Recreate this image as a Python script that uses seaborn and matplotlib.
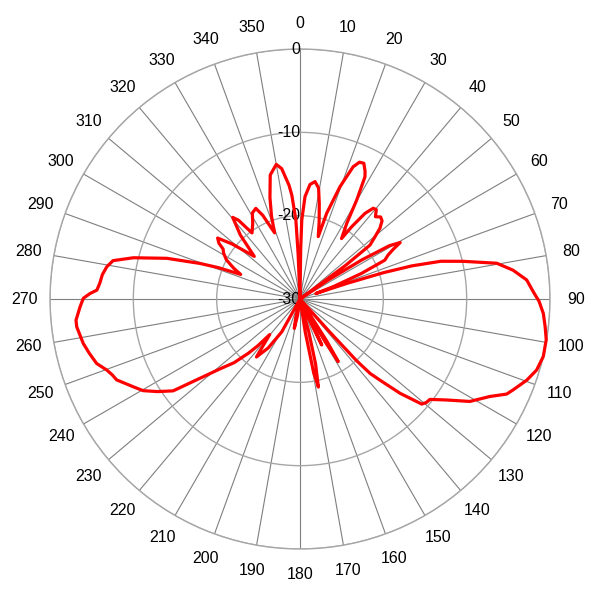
import numpy as np
import pandas as pd
import matplotlib
matplotlib.use("Agg")
import matplotlib.pyplot as plt
import seaborn as sns

# azimuth (deg, clockwise from top) and gain (dB)
angle_deg = [0, 0.8, 1.3, 2.8, 5, 7.3, 9.5, 11.4, 14, 16.3, 17.3, 19.6, 21.9, 23.5, 25.2,
             27, 28, 29.8, 31.7, 34.5, 35.6, 37.2, 38.9, 40.5, 42.5, 44.5, 46.4, 48.5, 50.3,
             52.4, 53.6, 55, 56.1, 57.7, 59.2, 60.6, 61.9, 63.5, 65.4, 67.4, 69.5, 71, 71.6,
             72.5, 73.5, 75, 77, 79.7, 82.3, 85.2, 88.2, 90.6, 93.4, 96.4, 99.4, 103.3, 106.7,
             109.7, 113.1, 114.7, 117.2, 121.1, 124.5, 127.7, 129.3, 130.8, 133.3, 135.4,
             136.7, 137.5, 138, 138.5, 146, 147.5, 148.6, 149.5, 151, 153.5, 154.7, 155.8,
             160, 165, 166.5, 168.2, 169.5, 171, 173, 186, 188.5, 191, 193.5, 197, 205, 209,
             213, 216.9, 218.5, 220.4, 222, 223.6, 226, 228.8, 231.6, 234.1, 237, 239.7,
             242.2, 246.2, 248, 249.8, 252.4, 255.5, 258.4, 262.9, 264.6, 268, 270.2, 271.5,
             272.5, 274.5, 277, 279.5, 281.6, 283.9, 287, 289.6, 291, 292.5, 295, 298, 301,
             303, 304.5, 306.5, 309, 313, 317, 320.5, 322, 324, 328, 331, 334, 336, 339, 341,
             343.5, 346.5, 350, 352, 354.5, 355.5, 357, 357.6, 358.5, 360]
gain_db = [-30, -24, -20.5, -17.7, -16.2, -15.8, -16.5, -18.3, -20.5, -22.2, -19.2, -15.7,
           -12.9, -12.1, -12.0, -12.8, -13.4, -16.3, -19.3, -21.2, -19.3, -17.1, -16.0, -15.9,
           -16.6, -16.2, -16.4, -17.2, -18.3, -19.4, -23.2, -30, -25.9, -21.2, -17.5, -16.2,
           -17.3, -18.2, -18.8, -22, -25.6, -28, -24, -19.5, -16, -12.5, -9.9, -6, -4.2, -2.7,
           -2.0, -1.3, -0.75, -0.4, -0.05, 0, -0.35, -1.1, -2.2, -2.7, -4.4, -6.2, -8.6, -10.3,
           -10.4, -10.7, -13.5, -16.3, -17.7, -20, -24.7, -30, -30, -24, -21.2, -24, -30, -27,
           -23.9, -27, -30, -26, -22, -19.2, -21, -26, -30, -30, -28, -26.4, -28, -30, -30,
           -25.5, -23, -21.3, -23, -24.4, -22.5, -21, -19, -17.3, -14.7, -11.2, -9.6, -8.2,
           -7.4, -5.95, -5.7, -5.3, -4.4, -3.9, -3.45, -3.0, -3.0, -3.6, -4.0, -4.8, -5.6,
           -5.9, -6.1, -6.5, -7.1, -9.4, -13.3, -17.3, -19.5, -22.3, -21.2, -20.0, -19.3,
           -19.0, -18.2, -17.7, -19.5, -22.5, -19.5, -17.3, -18, -20.2, -19.3, -18.2, -17.9,
           -19, -21.5, -19.5, -17.3, -14.7, -13.6, -14.2, -16.3, -17.5, -20.5, -24.5, -30, -30]

tick_angles = list(range(0, 360, 10))
tick_labels = [str(a) for a in tick_angles]
ring_values = [-30, -20, -10, 0]
ring_labels = ["-30", "-20", "-10", "0"]

df = pd.DataFrame({"theta": np.deg2rad(angle_deg), "gain": gain_db})

sns.set_style("white")
plt.rcParams['font.family'] = ['Liberation Sans', 'DejaVu Sans']

fig = plt.figure(figsize=(6, 6), dpi=100)
ax = fig.add_axes([50 / 600, 51 / 600, 500 / 600, 500 / 600], projection="polar")
ax.set_theta_zero_location("N")
ax.set_theta_direction(-1)
ax.set_ylim(-30, 0)

sns.lineplot(data=df, x="theta", y="gain", ax=ax, sort=False, estimator=None,
             color="#ff0000", linewidth=2.3, clip_on=False, zorder=5)
ax.set_xlabel("")
ax.set_ylabel("")

# grid
ax.set_thetagrids(tick_angles, tick_labels, fontsize=11.5)
ax.set_yticks(ring_values)
ax.set_yticklabels([])
ax.xaxis.grid(True, color="#7f7f7f", linewidth=0.8)
ax.yaxis.grid(True, color="#a6a6a6", linewidth=1.0)
ax.spines["polar"].set_color("#a6a6a6")
ax.spines["polar"].set_linewidth(1.0)
ax.tick_params(axis="x", pad=8, colors="#000000")

for v, lab in zip(ring_values, ring_labels):
    ax.text(0, v, lab, ha="right", va="center", fontsize=11.5, color="#000000",
            zorder=3, clip_on=False)

fig.savefig("out.png", dpi=100)
